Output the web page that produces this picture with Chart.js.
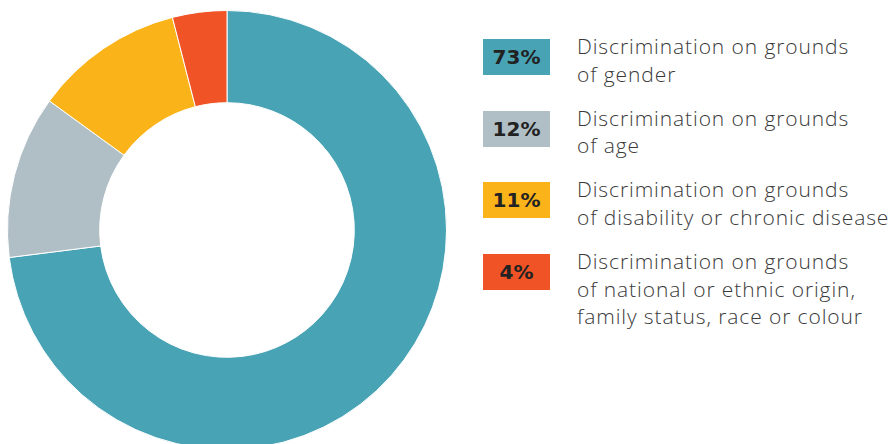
<!DOCTYPE html>
<html>
<head>
<meta charset="utf-8">
<script src="https://cdn.jsdelivr.net/npm/chart.js@4"></script>
<style>
  html, body { margin: 0; padding: 0; background: #fff; overflow: hidden; }
  body { width: 895px; height: 444px; position: relative; font-family: "Open Sans", "Noto Sans", sans-serif; }
  #wrap { position: absolute; left: 7px; top: 10px; width: 440px; height: 440px; }
  .row { position: absolute; left: 483px; }
  .box { position: absolute; left: 0; top: 0; width: 67px; height: 36px; color: #222;
         font-family: "DejaVu Sans", sans-serif; font-weight: bold; font-size: 20px;
         line-height: 36px; text-align: center; }
  .txt { position: absolute; left: 94px; top: -6px; width: 330px; color: #3a3a3a;
         font-size: 21px; font-weight: 300; letter-spacing: 0.9px; line-height: 27.5px; white-space: nowrap; }
</style>
</head>
<body>
<div id="wrap"><canvas id="c"></canvas></div>
<div id="legend"></div>
<script>
const shares = [73, 12, 11, 4];
const colors = ['#48a3b5', '#b0bec5', '#fbb31a', '#ef5326'];
const labels = [
  ['Discrimination on grounds', 'of gender'],
  ['Discrimination on grounds', 'of age'],
  ['Discrimination on grounds', 'of disability or chronic disease'],
  ['Discrimination on grounds', 'of national or ethnic origin,', 'family status, race or colour'],
];

new Chart(document.getElementById('c'), {
  type: 'doughnut',
  data: {
    labels: labels.map(l => l.join(' ')),
    datasets: [{ data: shares, backgroundColor: colors, borderColor: '#fff', borderWidth: 1 }],
  },
  options: {
    responsive: true, maintainAspectRatio: false, animation: false,
    cutout: '58%',
    plugins: { legend: { display: false }, tooltip: { enabled: false } },
  },
});

// legend drawn as html next to the ring
const legend = document.getElementById('legend');
shares.forEach((v, i) => {
  const row = document.createElement('div');
  row.className = 'row';
  row.style.top = (39 + i * 71.7) + 'px';
  row.innerHTML = `<div class="box" style="background:${colors[i]}">${v}%</div>` +
    `<div class="txt">${labels[i].join('<br>')}</div>`;
  legend.appendChild(row);
});
</script>
</body>
</html>
